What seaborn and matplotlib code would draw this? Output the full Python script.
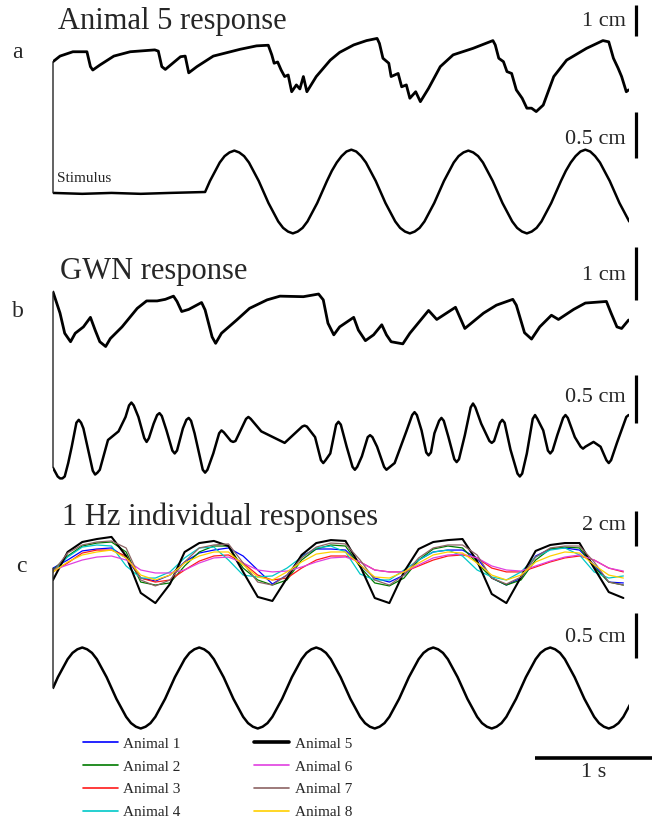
import numpy as np
import pandas as pd
import matplotlib.pyplot as plt
import seaborn as sns
from matplotlib.patches import ConnectionPatch
from matplotlib.lines import Line2D

sns.set_theme(style='white')
plt.rcParams['font.family'] = ['Liberation Serif', 'DejaVu Serif']

# ---------------- data (time in s, displacement in cm) ----------------
# a: Animal 5 response to a 1 Hz sine that starts at 1.3 s
a_resp_t = [0.00, 0.06, 0.17, 0.29, 0.32, 0.34, 0.40, 0.52, 0.66, 0.87, 0.90, 0.93, 0.96, 1.09, 1.13,
            1.16, 1.23, 1.37, 1.60, 1.74, 1.84, 1.87, 1.89, 1.92, 1.95, 1.98, 2.01, 2.04, 2.08, 2.11,
            2.14, 2.17, 2.25, 2.37, 2.45, 2.57, 2.68, 2.77, 2.79, 2.82, 2.87, 2.89, 2.95, 2.98, 3.02,
            3.05, 3.10, 3.14, 3.21, 3.31, 3.42, 3.59, 3.76, 3.78, 3.81, 3.85, 3.88, 3.92, 3.96, 4.01,
            4.05, 4.09, 4.13, 4.19, 4.28, 4.39, 4.56, 4.70, 4.75, 4.79, 4.83, 4.86, 4.90, 4.92]
a_resp_v = [0.43, 0.61, 0.75, 0.75, 0.27, 0.16, 0.32, 0.61, 0.75, 0.81, 0.77, 0.27, 0.18, 0.59, 0.61,
            0.07, 0.27, 0.61, 0.83, 0.94, 0.96, 0.65, 0.38, 0.42, 0.16, -0.05, 0.00, -0.54, -0.32, -0.45,
            -0.05, -0.54, -0.05, 0.48, 0.73, 0.97, 1.11, 1.18, 1.02, 0.54, 0.38, -0.05, 0.05, -0.38, -0.32,
            -0.75, -0.54, -0.86, -0.43, 0.27, 0.65, 0.86, 1.11, 0.97, 0.54, 0.43, 0.11, 0.05, -0.48, -0.75,
            -1.07, -1.07, -1.18, -0.97, -0.05, 0.48, 0.86, 1.11, 1.07, 0.54, 0.22, -0.05, -0.54, -0.48]

a_stim_rest_t = [0.00, 0.25, 0.50, 0.75, 1.00, 1.30]
a_stim_rest_v = [-0.01, -0.02, -0.01, -0.02, -0.01, 0.00]
a_stim_onset = 1.30
a_stim_dt = 1 / 24
a_stim_v = [0.00, 0.12, 0.22, 0.32, 0.39, 0.43, 0.45, 0.43, 0.39, 0.32, 0.22, 0.12,
            0.00, -0.12, -0.22, -0.32, -0.39, -0.43, -0.45, -0.43, -0.39, -0.32, -0.22, -0.12,
            0.00, 0.12, 0.23, 0.32, 0.39, 0.44, 0.46, 0.44, 0.39, 0.32, 0.22, 0.12,
            0.00, -0.12, -0.22, -0.32, -0.39, -0.43, -0.45, -0.43, -0.39, -0.32, -0.22, -0.12,
            0.00, 0.12, 0.22, 0.32, 0.39, 0.43, 0.45, 0.43, 0.39, 0.32, 0.22, 0.12,
            0.00, -0.12, -0.22, -0.32, -0.39, -0.43, -0.45, -0.43, -0.39, -0.32, -0.22, -0.12,
            0.00, 0.12, 0.23, 0.32, 0.39, 0.44, 0.46, 0.44, 0.39, 0.32, 0.22, 0.12,
            0.00, -0.12, -0.22, -0.32]

# b: Gaussian white noise stimulus and response
b_resp_t = [0.00, 0.06, 0.10, 0.15, 0.19, 0.26, 0.32, 0.36, 0.40, 0.45, 0.49, 0.59, 0.72, 0.80, 0.89,
            0.96, 1.03, 1.06, 1.10, 1.16, 1.27, 1.30, 1.36, 1.39, 1.44, 1.57, 1.68, 1.83, 1.94, 2.14,
            2.27, 2.31, 2.35, 2.40, 2.45, 2.57, 2.61, 2.67, 2.74, 2.81, 2.85, 2.89, 2.99, 3.05, 3.21,
            3.28, 3.44, 3.52, 3.68, 3.79, 3.93, 3.96, 4.03, 4.09, 4.16, 4.26, 4.32, 4.45, 4.55, 4.73,
            4.77, 4.82, 4.86, 4.92]
b_resp_v = [0.53, 0.13, -0.25, -0.41, -0.25, -0.13, 0.05, -0.19, -0.41, -0.50, -0.35, -0.13, 0.22, 0.36, 0.36,
            0.39, 0.45, 0.35, 0.16, 0.20, 0.33, 0.19, -0.32, -0.44, -0.25, 0.00, 0.22, 0.38, 0.45, 0.44,
            0.49, 0.38, -0.06, -0.28, -0.13, 0.05, -0.19, -0.39, -0.28, -0.09, -0.28, -0.41, -0.45, -0.25, 0.18,
            0.01, 0.24, -0.16, 0.13, 0.28, 0.39, 0.28, -0.24, -0.36, -0.13, 0.09, 0.01, 0.20, 0.32, 0.35,
            0.13, -0.13, -0.16, 0.00]

b_stim_t = [0.00, 0.04, 0.06, 0.08, 0.10, 0.13, 0.16, 0.20, 0.22, 0.24,
            0.26, 0.32, 0.34, 0.36, 0.38, 0.40, 0.47, 0.56, 0.62, 0.65,
            0.67, 0.69, 0.73, 0.78, 0.80, 0.82, 0.86, 0.89, 0.91, 0.93,
            0.97, 1.02, 1.04, 1.06, 1.11, 1.14, 1.16, 1.18, 1.21, 1.28,
            1.30, 1.32, 1.37, 1.42, 1.44, 1.46, 1.52, 1.54, 1.56, 1.65,
            1.67, 1.69, 1.78, 1.88, 1.98, 2.13, 2.15, 2.17, 2.24, 2.29,
            2.31, 2.33, 2.37, 2.42, 2.44, 2.46, 2.51, 2.56, 2.58, 2.60,
            2.64, 2.69, 2.71, 2.73, 2.77, 2.83, 2.85, 2.87, 2.92, 3.02,
            3.07, 3.09, 3.11, 3.15, 3.19, 3.21, 3.23, 3.26, 3.30, 3.32,
            3.34, 3.38, 3.43, 3.45, 3.47, 3.52, 3.57, 3.59, 3.61, 3.66,
            3.73, 3.75, 3.77, 3.82, 3.84, 3.86, 3.91, 3.97, 3.99, 4.01,
            4.05, 4.10, 4.12, 4.14, 4.19, 4.23, 4.25, 4.27, 4.31, 4.36,
            4.38, 4.40, 4.46, 4.51, 4.53, 4.55, 4.62, 4.68, 4.73, 4.75,
            4.77, 4.82, 4.90, 4.92]
b_stim_v = [-0.29, -0.38, -0.40, -0.40, -0.38, -0.24, -0.07, 0.18, 0.21, 0.18,
            0.12, -0.21, -0.32, -0.36, -0.34, -0.31, 0.00, 0.09, 0.24, 0.36,
            0.39, 0.36, 0.24, 0.02, -0.02, 0.02, 0.17, 0.26, 0.28, 0.25,
            0.10, -0.11, -0.14, -0.11, 0.12, 0.21, 0.23, 0.20, 0.07, -0.31,
            -0.34, -0.31, -0.14, 0.07, 0.10, 0.08, -0.01, -0.02, -0.01, 0.22,
            0.24, 0.22, 0.09, 0.03, -0.03, 0.14, 0.15, 0.14, 0.03, -0.21,
            -0.24, -0.21, -0.14, 0.16, 0.19, 0.16, -0.07, -0.28, -0.31, -0.28,
            -0.17, 0.03, 0.05, 0.03, -0.07, -0.28, -0.31, -0.29, -0.24, 0.09,
            0.26, 0.29, 0.26, 0.10, -0.13, -0.16, -0.13, 0.07, 0.20, 0.23,
            0.20, 0.03, -0.20, -0.23, -0.20, 0.05, 0.34, 0.38, 0.34, 0.17,
            -0.01, -0.03, -0.01, 0.18, 0.21, 0.18, -0.10, -0.35, -0.38, -0.35,
            -0.14, 0.22, 0.26, 0.22, 0.10, -0.11, -0.14, -0.11, 0.05, 0.23,
            0.26, 0.23, 0.03, -0.07, -0.09, -0.07, -0.02, -0.07, -0.21, -0.24,
            -0.21, -0.03, 0.24, 0.26]

# c: eight animals, 1 Hz sine, sampled every 1/8 s
c_dt = 1 / 8
animals = ['Animal 1', 'Animal 2', 'Animal 3', 'Animal 4', 'Animal 5', 'Animal 6', 'Animal 7', 'Animal 8']
animal_1 = [0.11, 0.57, 1.09, 1.20, 1.26, 0.69, -0.46, -0.63, -0.29, 0.46, 0.97, 1.14, 1.26, 0.80, 0.00, -0.80,
            -0.29, 0.80, 1.20, 1.20, 1.14, 0.29, -0.46, -0.69, -0.29, 0.57, 1.03, 1.14, 1.14, 0.69, -0.46, -0.86,
            -0.46, 0.80, 1.20, 1.26, 1.14, 0.29, -0.69, -0.74]
animal_2 = [0.00, 0.80, 1.37, 1.54, 1.60, 1.03, -0.69, -0.86, -0.74, 0.23, 1.03, 1.37, 1.37, 0.11, -0.57, -0.86,
            -0.57, 0.57, 1.20, 1.43, 1.37, 0.17, -0.74, -0.91, -0.46, 0.57, 1.20, 1.37, 1.26, 0.40, -0.46, -0.86,
            -0.57, 0.57, 1.20, 1.31, 1.26, 0.17, -0.69, -0.86]
animal_3 = [-0.11, 0.40, 0.97, 1.14, 1.14, 0.80, -0.46, -0.69, -0.57, 0.00, 0.51, 0.80, 0.86, 0.40, -0.29, -0.57,
            -0.46, 0.11, 0.57, 0.80, 0.80, 0.46, 0.00, -0.11, -0.11, 0.23, 0.57, 0.80, 0.86, 0.69, 0.11, -0.11,
            -0.11, 0.17, 0.46, 0.69, 0.80, 0.57, 0.11, -0.11]
animal_4 = [-0.11, 0.74, 1.31, 1.43, 1.37, 0.23, -0.46, -0.46, -0.11, 0.69, 1.26, 1.31, 0.57, -0.29, -0.40, -0.34,
            0.11, 0.74, 1.26, 1.37, 1.03, -0.23, -0.57, -0.57, 0.00, 0.57, 1.03, 1.14, 0.80, 0.00, -0.40, -0.57,
            -0.11, 0.74, 1.14, 1.26, 0.86, -0.11, -0.46, -0.34]
animal_5 = [-0.57, 1.03, 1.60, 1.77, 1.89, 0.80, -1.31, -1.89, -0.80, 1.03, 1.54, 1.66, 1.37, -0.11, -1.54, -1.77,
            -0.46, 0.86, 1.54, 1.71, 1.66, 0.23, -1.60, -1.89, -0.11, 1.20, 1.60, 1.71, 1.77, 0.51, -1.37, -1.89,
            -0.40, 1.09, 1.43, 1.54, 1.54, 0.11, -1.26, -1.60]
animal_6 = [0.00, 0.29, 0.57, 0.74, 0.80, 0.57, 0.00, -0.17, -0.17, 0.00, 0.40, 0.69, 0.74, 0.40, 0.00, -0.11,
            -0.06, 0.17, 0.46, 0.69, 0.74, 0.46, 0.00, -0.11, -0.11, 0.29, 0.69, 0.86, 0.91, 0.69, 0.23, 0.00,
            -0.06, 0.23, 0.51, 0.74, 0.86, 0.57, 0.11, -0.06]
animal_7 = [-0.11, 0.97, 1.43, 1.60, 1.66, 1.26, -0.57, -0.91, -0.57, 0.46, 1.26, 1.43, 1.49, 0.40, -0.69, -0.86,
            -0.29, 0.69, 1.31, 1.54, 1.49, 0.57, -0.57, -0.86, -0.29, 0.69, 1.26, 1.43, 1.43, 0.86, -0.46, -0.80,
            -0.40, 0.74, 1.26, 1.37, 1.37, 0.46, -0.69, -0.86]
animal_8 = [-0.11, 0.46, 0.86, 1.03, 1.14, 0.69, -0.29, -0.57, -0.29, 0.40, 0.80, 1.03, 1.03, 0.29, -0.40, -0.57,
            -0.11, 0.46, 0.91, 1.03, 1.03, 0.29, -0.40, -0.46, -0.11, 0.40, 0.86, 1.03, 0.97, 0.40, -0.29, -0.57,
            -0.29, 0.46, 0.80, 1.03, 0.97, 0.29, -0.29, -0.46]
animal_colors = ['#0000ff', '#007a00', '#ff1a1a', '#00c8c8', '#000000', '#e040e0', '#8c6464', '#ffd000']

c_stim_dt = 1 / 24
c_stim_v = [0.00, 0.12, 0.22, 0.32, 0.39, 0.43, 0.45, 0.43, 0.39, 0.32, 0.22, 0.12,
            0.00, -0.12, -0.22, -0.32, -0.39, -0.43, -0.45, -0.43, -0.39, -0.32, -0.22, -0.12,
            0.00, 0.12, 0.22, 0.32, 0.39, 0.43, 0.45, 0.43, 0.39, 0.32, 0.22, 0.12,
            0.00, -0.12, -0.22, -0.32, -0.39, -0.43, -0.45, -0.43, -0.39, -0.32, -0.22, -0.12,
            0.00, 0.12, 0.22, 0.32, 0.39, 0.43, 0.45, 0.43, 0.39, 0.32, 0.22, 0.12,
            0.00, -0.12, -0.22, -0.32, -0.39, -0.43, -0.45, -0.43, -0.39, -0.32, -0.22, -0.12,
            0.00, 0.12, 0.22, 0.32, 0.39, 0.43, 0.45, 0.43, 0.39, 0.32, 0.22, 0.12,
            0.00, -0.12, -0.22, -0.32, -0.39, -0.43, -0.45, -0.43, -0.39, -0.32, -0.22, -0.12,
            0.00, 0.12, 0.22, 0.32, 0.39, 0.43, 0.45, 0.43, 0.39, 0.32, 0.22, 0.12,
            0.00, -0.12, -0.22, -0.32, -0.39, -0.43, -0.45, -0.43, -0.39, -0.32, -0.22, -0.12]

# ---------------- layout (pixels of the 652 x 821 canvas) ----------------
W, H = 652, 821
PX_PER_S = 117
T0_PX, T1_PX = 53, 629

fig = plt.figure(figsize=(W / 100, H / 100), dpi=100)


def trace_axes(zero_px, px_per_cm, top_px, bottom_px):
    ax = fig.add_axes([T0_PX / W, 1 - bottom_px / H, (T1_PX - T0_PX) / W, (bottom_px - top_px) / H])
    ax.set_xlim(0, (T1_PX - T0_PX) / PX_PER_S)
    ax.set_ylim((zero_px - bottom_px) / px_per_cm, (zero_px - top_px) / px_per_cm)
    ax.set_axis_off()
    return ax


def scale_bar(ax, zero_px, px_per_cm, bottom_px, length, label, label_y):
    t = (636 - T0_PX) / PX_PER_S
    y0 = (zero_px - bottom_px) / px_per_cm
    ax.plot([t, t], [y0, y0 + length], color='black', lw=2.3, clip_on=False, solid_capstyle='butt')
    fig.text(626 / W, 1 - label_y / H, label, ha='right', va='center', fontsize=16)


def connect(ax1, y1, ax2, y2):
    con = ConnectionPatch(xyA=(0, y1), coordsA=ax1.transData, xyB=(0, y2), coordsB=ax2.transData,
                          color='#222222', lw=1.0)
    fig.add_artist(con)


TRACE_LW = 2.0
STIM_LW = 1.8
TITLE_FS = 22

# panel a
ax_ar = trace_axes(75, 31, 0, 130)
ax_as = trace_axes(192, 92, 130, 245)
sns.lineplot(x=a_resp_t, y=a_resp_v, sort=False, estimator=None, color='black', lw=TRACE_LW, ax=ax_ar)
a_stim_t = a_stim_onset + np.arange(len(a_stim_v)) * a_stim_dt
sns.lineplot(x=a_stim_rest_t + list(a_stim_t[1:]), y=a_stim_rest_v + a_stim_v[1:], sort=False,
             estimator=None, color='black', lw=STIM_LW, ax=ax_as)
connect(ax_ar, a_resp_v[0], ax_as, a_stim_rest_v[0])
scale_bar(ax_ar, 75, 31, 36, 1.0, '1 cm', 22)
scale_bar(ax_as, 192, 92, 158, 0.5, '0.5 cm', 140)
fig.text(58 / W, 1 - 21 / H, 'Animal 5 response', fontsize=TITLE_FS, va='center')
fig.text(12 / W, 1 - 53 / H, 'a', fontsize=17, va='center')
fig.text(57 / W, 1 - 178 / H, 'Stimulus', fontsize=11, va='center')

# panel b
ax_br = trace_axes(320, 53, 245, 380)
ax_bs = trace_axes(440, 96, 380, 495)
sns.lineplot(x=b_resp_t, y=b_resp_v, sort=False, estimator=None, color='black', lw=TRACE_LW, ax=ax_br)
sns.lineplot(x=b_stim_t, y=b_stim_v, sort=False, estimator=None, color='black', lw=STIM_LW, ax=ax_bs)
connect(ax_br, b_resp_v[0], ax_bs, b_stim_v[0])
scale_bar(ax_br, 320, 53, 300, 1.0, '1 cm', 275)
scale_bar(ax_bs, 440, 96, 423, 0.5, '0.5 cm', 397)
fig.text(60 / W, 1 - 271 / H, 'GWN response', fontsize=TITLE_FS, va='center')
fig.text(12 / W, 1 - 311 / H, 'b', fontsize=17, va='center')

# panel c
ax_cr = trace_axes(570, 17.5, 495, 625)
ax_cs = trace_axes(688, 90, 625, 735)
series = [animal_1, animal_2, animal_3, animal_4, animal_5, animal_6, animal_7, animal_8]
df = pd.concat([pd.DataFrame({'t': np.arange(len(v)) * c_dt, 'cm': v, 'animal': name})
                for name, v in zip(animals, series)], ignore_index=True)
widths = {name: (1.5 if name == 'Animal 5' else 0.9) for name in animals}
sns.lineplot(data=df, x='t', y='cm', hue='animal', hue_order=animals, palette=animal_colors,
             size='animal', sizes=widths, estimator=None, legend=False, ax=ax_cr)
c_stim_t = np.arange(len(c_stim_v)) * c_stim_dt
sns.lineplot(x=c_stim_t, y=c_stim_v, sort=False, estimator=None, color='black', lw=STIM_LW, ax=ax_cs)
connect(ax_cr, max(v[0] for v in series), ax_cs, c_stim_v[0])
scale_bar(ax_cr, 570, 17.5, 546, 2.0, '2 cm', 526)
scale_bar(ax_cs, 688, 90, 658, 0.5, '0.5 cm', 637)
fig.text(62 / W, 1 - 517 / H, '1 Hz individual responses', fontsize=TITLE_FS, va='center')
fig.text(16 / W, 1 - 566 / H, 'c', fontsize=17, va='center')

# 1 s time bar
bar_y = (688 - 758) / 90
bar_t0 = (535 - T0_PX) / PX_PER_S
ax_cs.plot([bar_t0, bar_t0 + 1.0], [bar_y, bar_y], color='black', lw=2.6, clip_on=False,
           solid_capstyle='butt')
fig.text(594 / W, 1 - 772 / H, '1 s', fontsize=16, ha='center', va='center')

# legend
handles = [Line2D([], [], color=c, lw=(2.6 if n == 'Animal 5' else 1.2)) for n, c in zip(animals, animal_colors)]
fig.legend(handles, animals, ncol=2, loc='upper left', bbox_to_anchor=(83 / W, 1 - 737 / H),
           frameon=False, fontsize=11, handlelength=2.3, handletextpad=0.35, columnspacing=4.8,
           labelspacing=0.6, borderpad=0, borderaxespad=0)

fig.savefig('out.png', dpi=100)
